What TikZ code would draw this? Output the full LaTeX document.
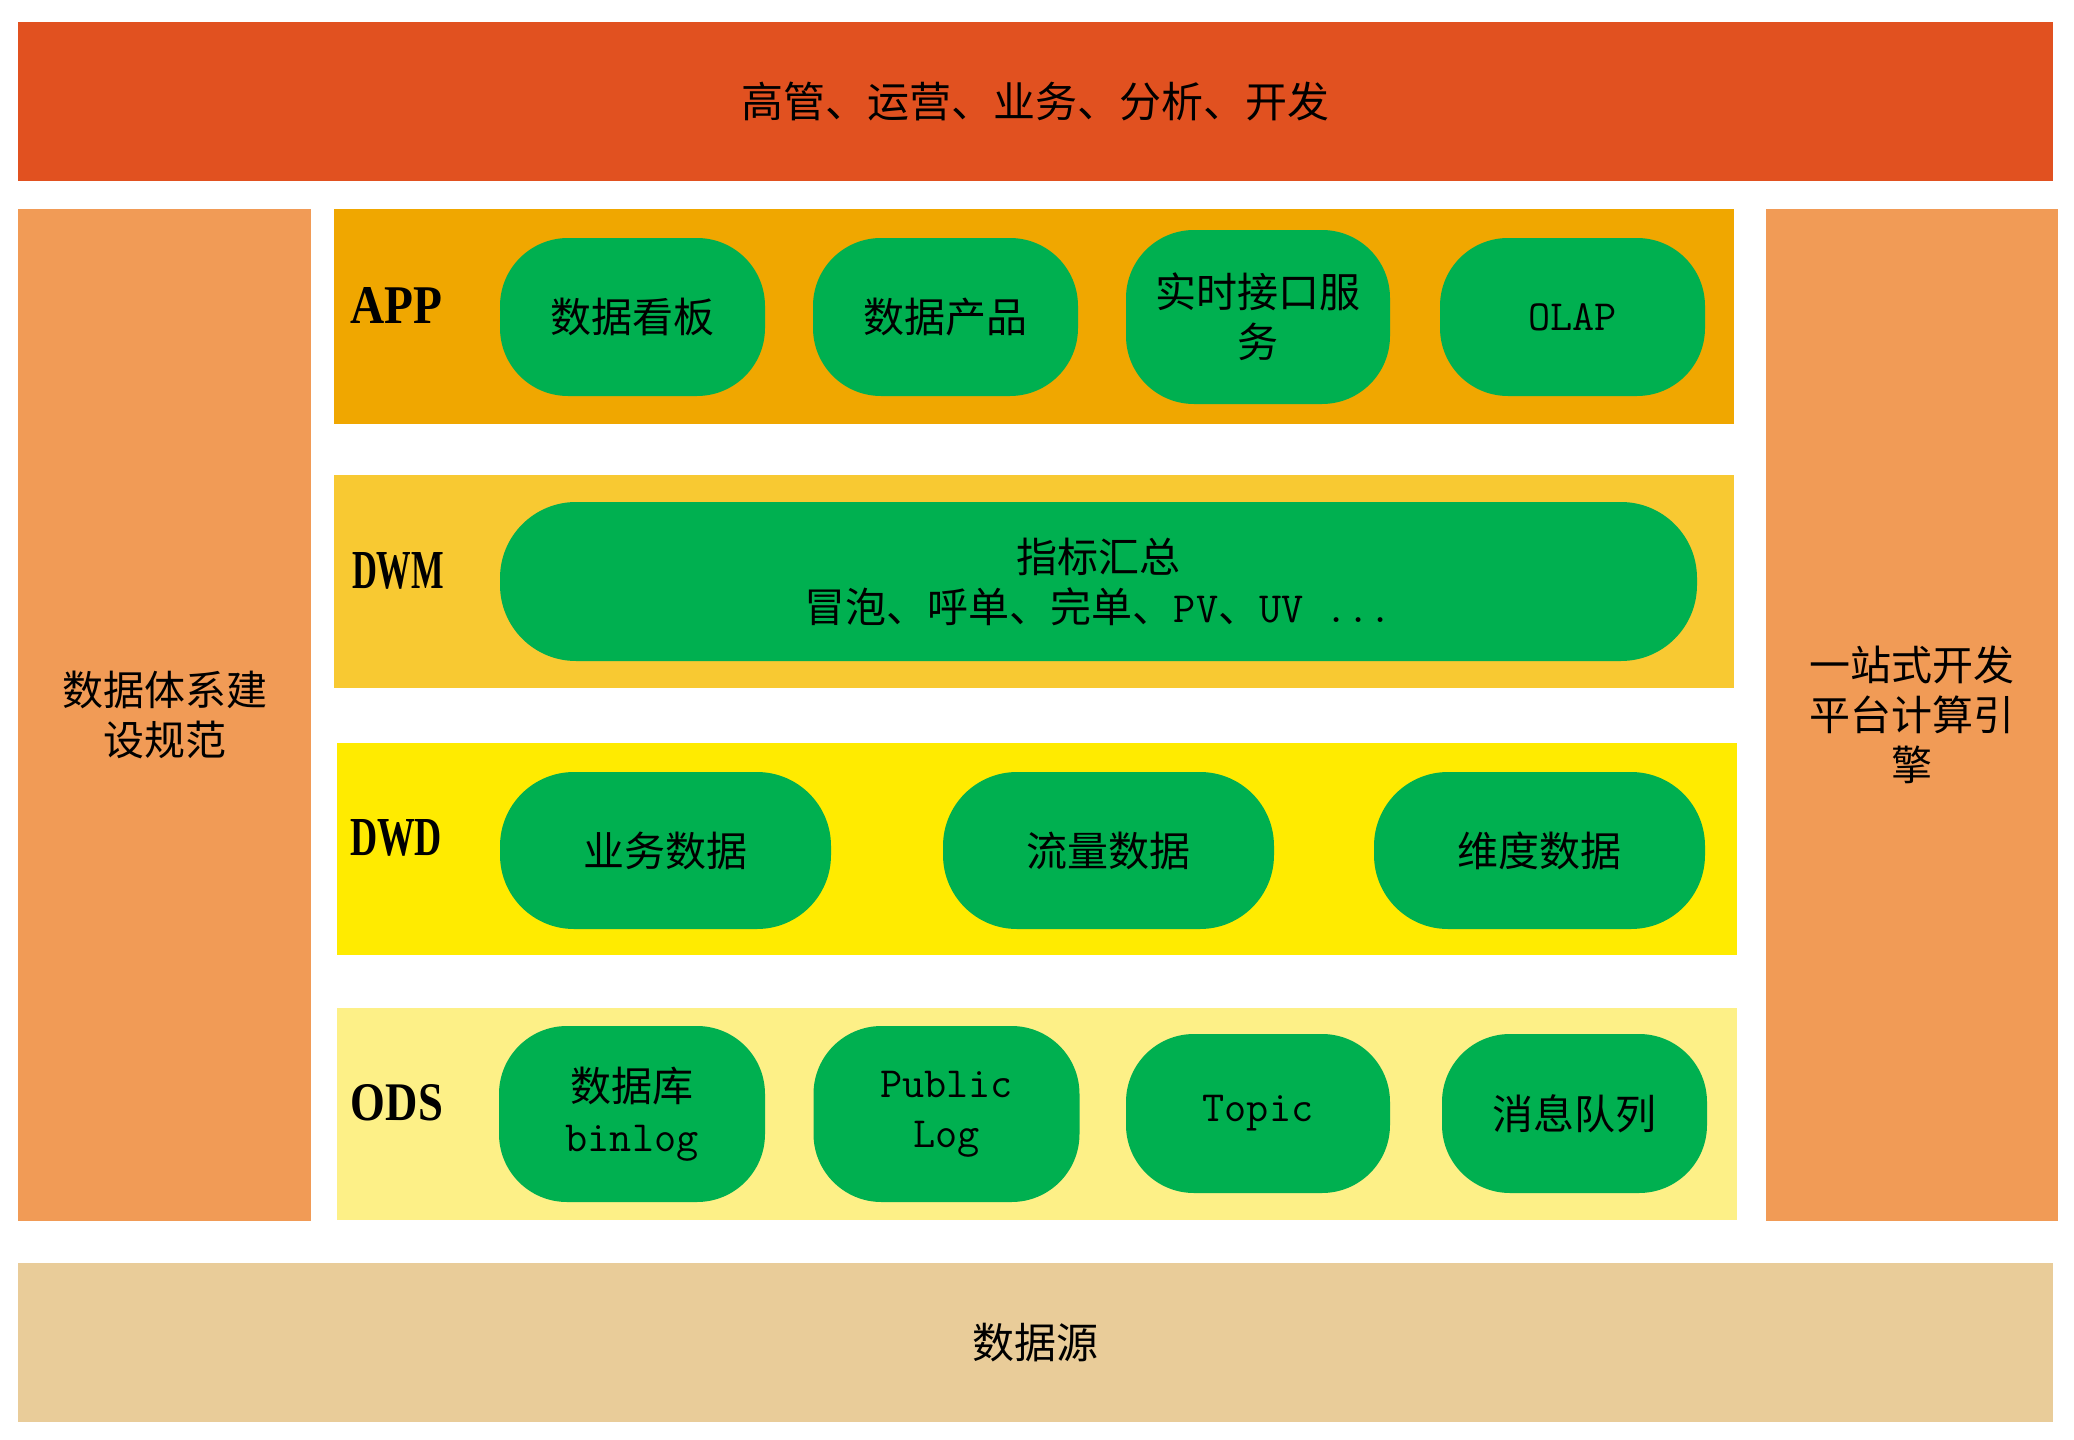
\documentclass[tikz,border=0pt]{standalone}
\usepackage{fontspec}
\usepackage{graphicx}
\setmainfont{Noto Sans CJK SC}
\newfontfamily\lblfont{Liberation Serif}
\definecolor{topred}{HTML}{E15120}
\definecolor{sideorange}{HTML}{F19B56}
\definecolor{appband}{HTML}{F0A700}
\definecolor{dwmband}{HTML}{F8C932}
\definecolor{dwdband}{HTML}{FFEB00}
\definecolor{odsband}{HTML}{FDF087}
\definecolor{srcband}{HTML}{E9CC99}
\definecolor{pillgreen}{HTML}{00B050}
\newcommand{\mn}[1]{{\ttfamily\fontsize{21.5}{25}\selectfont #1}}
\newcommand{\lbltext}[1]{\resizebox{46pt}{18pt}{\lblfont\bfseries #1}}
\tikzset{
  block/.style={rectangle, inner sep=0pt, align=center, text=black,
    font=\fontsize{20.5}{25}\selectfont},
  pill/.style={block, fill=pillgreen, rounded corners=34pt},
  layerlabel/.style={inner sep=0pt, text=black}
}
\begin{document}
\begin{tikzpicture}[x=0.5pt,y=-0.5pt]
\useasboundingbox[fill=white] (0,0) rectangle (2074,1440);
% top and bottom bars
\node[block, fill=topred, minimum width=1017.5pt, minimum height=79.5pt, font=\fontsize{21}{25}\selectfont] (users) at (1035.5,101.5) {高管、运营、业务、分析、开发};
\node[block, fill=srcband, minimum width=1017.5pt, minimum height=79.5pt, font=\fontsize{21}{25}\selectfont] (source) at (1035.5,1342.5) {数据源};
% side columns
\node[block, fill=sideorange, minimum width=146.5pt, minimum height=506pt] (spec) at (164.5,715) {数据体系建\\设规范};
\node[block, fill=sideorange, minimum width=146pt, minimum height=506pt] (engine) at (1912,715) {一站式开发\\平台计算引\\擎};
% layer bands
\node[block, fill=appband, minimum width=700pt, minimum height=107.5pt] (appL) at (1034,316.5) {};
\node[block, fill=dwmband, minimum width=700pt, minimum height=106.5pt] (dwmL) at (1034,581.5) {};
\node[block, fill=dwdband, minimum width=700pt, minimum height=106pt] (dwdL) at (1037,849) {};
\node[block, fill=odsband, minimum width=700pt, minimum height=106pt] (odsL) at (1037,1114) {};
% layer labels
\node[layerlabel] (appT) at (396,305) {\lbltext{APP}};
\node[layerlabel] (dwmT) at (398,571) {\lbltext{DWM}};
\node[layerlabel] (dwdT) at (396,838) {\lbltext{DWD}};
\node[layerlabel] (odsT) at (397,1103) {\lbltext{ODS}};
% APP pills
\node[pill, minimum width=132.5pt, minimum height=79pt] (a1) at (632.5,317) {数据看板};
\node[pill, minimum width=132.5pt, minimum height=79pt] (a2) at (945.5,317) {数据产品};
\node[pill, minimum width=132pt, minimum height=87pt] (a3) at (1258,317) {实时接口服\\务};
\node[pill, minimum width=132.5pt, minimum height=79pt] (a4) at (1572.5,317) {\mn{OLAP}};
% DWM pill
\node[pill, minimum width=598.5pt, minimum height=79.5pt, rounded corners=38pt] (m1) at (1098.5,581.5) {指标汇总\\冒泡、呼单、完单、\mn{PV}、\mn{UV ...}};
% DWD pills
\node[pill, minimum width=165.5pt, minimum height=78.5pt, rounded corners=37pt] (d1) at (665.5,850.5) {业务数据};
\node[pill, minimum width=165.5pt, minimum height=78.5pt, rounded corners=37pt] (d2) at (1108.5,850.5) {流量数据};
\node[pill, minimum width=165.5pt, minimum height=78.5pt, rounded corners=37pt] (d3) at (1539.5,850.5) {维度数据};
% ODS pills
\node[pill, minimum width=133pt, minimum height=88pt] (o1) at (632,1114) {数据库\\\mn{binlog}};
\node[pill, minimum width=133pt, minimum height=88pt] (o2) at (946.5,1114) {\mn{Public}\\\mn{Log}};
\node[pill, minimum width=132pt, minimum height=79.5pt] (o3) at (1258,1113.5) {\mn{Topic}};
\node[pill, minimum width=132.5pt, minimum height=79.5pt] (o4) at (1574.5,1113.5) {消息队列};
\end{tikzpicture}
\end{document}
